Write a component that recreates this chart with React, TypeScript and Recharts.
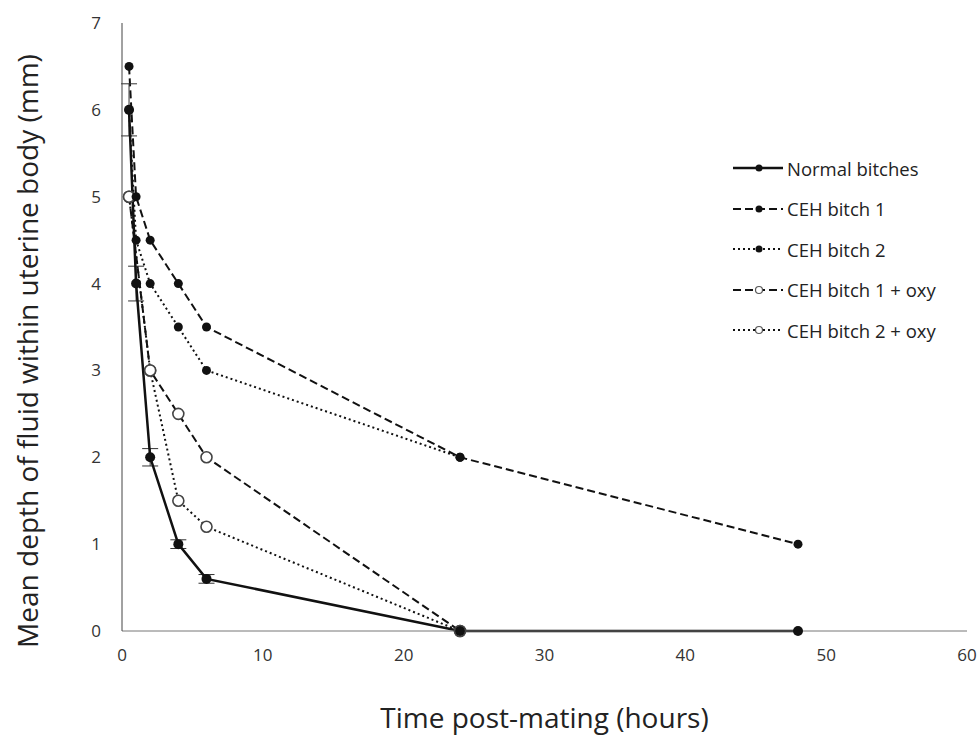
import React from "react";
import { LineChart, Line, XAxis, YAxis, ErrorBar } from "recharts";

const normalX = [0.5, 1, 2, 4, 6, 24, 48];
const normalY = [6, 4, 2, 1, 0.6, 0, 0];
const normalErr = [0.3, 0.2, 0.1, 0.05, 0.05, 0, 0];
const ceh1X = [0.5, 1, 2, 4, 6, 24, 48];
const ceh1Y = [6.5, 5, 4.5, 4, 3.5, 2, 1];
const ceh2X = [0.5, 1, 2, 4, 6, 24];
const ceh2Y = [6, 4.5, 4, 3.5, 3, 2];
const oxy1X = [0.5, 2, 4, 6, 24];
const oxy1Y = [5, 3, 2.5, 2, 0];
const oxy2X = [0.5, 2, 4, 6, 24];
const oxy2Y = [5, 3, 1.5, 1.2, 0];
const xTicks = [0, 10, 20, 30, 40, 50, 60];
const yTicks = [0, 1, 2, 3, 4, 5, 6, 7];

const seriesNames = [
  "Normal bitches",
  "CEH bitch 1",
  "CEH bitch 2",
  "CEH bitch 1 + oxy",
  "CEH bitch 2 + oxy",
];
const xTitle = "Time post-mating (hours)";
const yTitle = "Mean depth of fluid within uterine body (mm)";

const build = (xs: number[], ys: number[], errs?: number[]) =>
  xs.map((x, i) => ({ x, y: ys[i], err: errs ? errs[i] : 0 }));

const normalData = build(normalX, normalY, normalErr);
const ceh1Data = build(ceh1X, ceh1Y);
const ceh2Data = build(ceh2X, ceh2Y);
const oxy1Data = build(oxy1X, oxy1Y);
const oxy2Data = build(oxy2X, oxy2Y);

const FONT = "'Open Sans', 'Noto Sans', sans-serif";
const INK = "#111";

const styles = [
  { dash: undefined as string | undefined, width: 2.5, open: false, r: 5 },
  { dash: "8 4", width: 2, open: false, r: 4.5 },
  { dash: "2 3", width: 2, open: false, r: 4.5 },
  { dash: "8 4", width: 2, open: true, r: 5.5 },
  { dash: "2 3", width: 2, open: true, r: 5.5 },
];

const LegendBox = () => (
  <div
    style={{
      position: "absolute",
      left: 731,
      top: 148,
      fontFamily: FONT,
      fontSize: 18.5,
      color: "#222",
    }}
  >
    {seriesNames.map((name, i) => {
      const s = styles[i];
      return (
        <div key={name} style={{ display: "flex", alignItems: "center", height: 40.5 }}>
          <svg width={54} height={14}>
            <line x1={2} y1={7} x2={52} y2={7} stroke={INK} strokeWidth={s.width} strokeDasharray={s.dash} />
            {s.open ? (
              <circle cx={28} cy={7} r={3.5} fill="#fff" stroke="#555" strokeWidth={1.2} />
            ) : (
              <circle cx={28} cy={7} r={3.5} fill={INK} />
            )}
          </svg>
          <span style={{ marginLeft: 2 }}>{name}</span>
        </div>
      );
    })}
  </div>
);

const YTitle = (props: any) => {
  const vb = props.viewBox || { x: 0, y: 23, width: 122, height: 608 };
  const cx = vb.x + 38;
  const cy = vb.y + vb.height / 2 + 24;
  return (
    <text
      x={cx}
      y={cy}
      transform={`rotate(-90, ${cx}, ${cy})`}
      textAnchor="middle"
      fill="#222"
      fontSize={28}
      fontFamily={FONT}
    >
      {yTitle}
    </text>
  );
};

const dotFor = (i: number) => {
  const s = styles[i];
  return s.open
    ? { r: s.r, fill: "#fff", stroke: "#444", strokeWidth: 1.6, strokeDasharray: "" }
    : { r: s.r, fill: INK, stroke: INK, strokeWidth: 0, strokeDasharray: "" };
};

export default function App() {
  return (
    <div style={{ position: "absolute", left: 0, top: 0, width: 979, height: 735, background: "#fff" }}>
      <LineChart width={979} height={735} margin={{ top: 23, right: 12, left: 0, bottom: 74 }}>
        <XAxis
          type="number"
          dataKey="x"
          domain={[0, 60]}
          ticks={xTicks}
          allowDuplicatedCategory={false}
          stroke="#777"
          tickLine={false}
          tickMargin={12}
          tick={{ fill: "#333", fontSize: 17, fontFamily: FONT }}
          height={30}
          label={{
            value: xTitle,
            position: "insideBottom",
            offset: -67,
            style: { fill: "#222", fontSize: 28, fontFamily: FONT },
          }}
        />
        <YAxis
          type="number"
          dataKey="y"
          domain={[0, 7]}
          ticks={yTicks}
          width={122}
          stroke="#444"
          tickLine={false}
          tickMargin={15}
          tick={{ fill: "#333", fontSize: 17, fontFamily: FONT }}
          label={<YTitle />}
        />
        <Line
          data={oxy2Data}
          dataKey="y"
          name={seriesNames[4]}
          stroke={INK}
          strokeWidth={styles[4].width}
          strokeDasharray={styles[4].dash}
          dot={dotFor(4)}
          isAnimationActive={false}
        />
        <Line
          data={oxy1Data}
          dataKey="y"
          name={seriesNames[3]}
          stroke={INK}
          strokeWidth={styles[3].width}
          strokeDasharray={styles[3].dash}
          dot={dotFor(3)}
          isAnimationActive={false}
        />
        <Line
          data={ceh2Data}
          dataKey="y"
          name={seriesNames[2]}
          stroke={INK}
          strokeWidth={styles[2].width}
          strokeDasharray={styles[2].dash}
          dot={dotFor(2)}
          isAnimationActive={false}
        />
        <Line
          data={ceh1Data}
          dataKey="y"
          name={seriesNames[1]}
          stroke={INK}
          strokeWidth={styles[1].width}
          strokeDasharray={styles[1].dash}
          dot={dotFor(1)}
          isAnimationActive={false}
        />
        <Line
          data={normalData}
          dataKey="y"
          name={seriesNames[0]}
          stroke={INK}
          strokeWidth={styles[0].width}
          dot={dotFor(0)}
          isAnimationActive={false}
        >
          <ErrorBar dataKey="err" direction="y" width={8} stroke="#333" strokeWidth={1} />
        </Line>
      </LineChart>
      <LegendBox />
    </div>
  );
}
